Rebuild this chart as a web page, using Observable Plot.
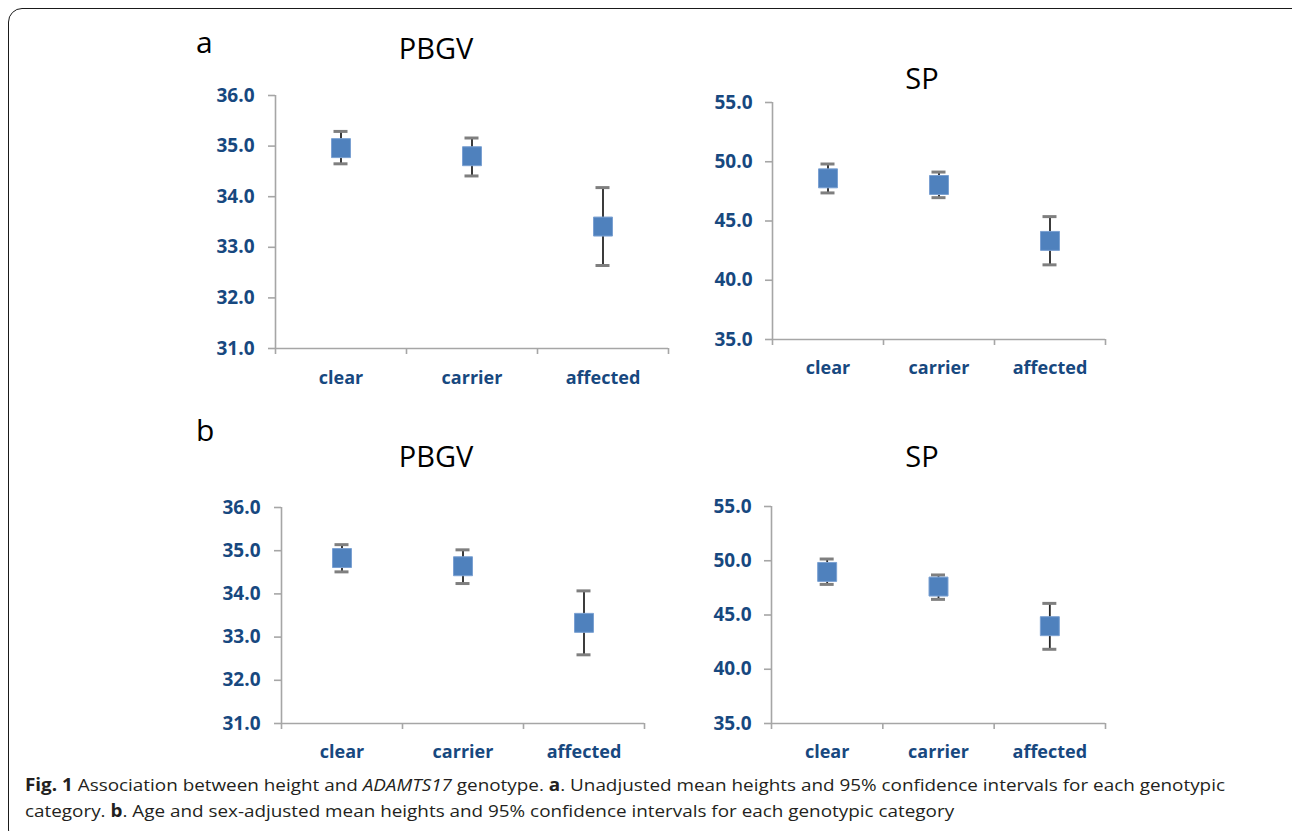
<!DOCTYPE html>
<html>
<head>
<meta charset="utf-8">
<script src="https://cdn.jsdelivr.net/npm/d3@7"></script>
<script src="https://cdn.jsdelivr.net/npm/@observablehq/plot@0.6"></script>
<style>
html,body{margin:0;padding:0;background:#fff;}
body{width:1292px;height:831px;position:relative;overflow:hidden;font-family:"Open Sans",sans-serif;}
.frame{position:absolute;left:8px;top:8px;width:1300px;height:836px;border:1.5px solid #1a1a1a;border-radius:14px;box-sizing:border-box;}
.t{position:absolute;white-space:nowrap;line-height:1;color:#000;font-family:"Open Sans",sans-serif;}
.c{transform:translateX(-50%);}
.panel{position:absolute;}
.caption{position:absolute;left:25px;top:772px;font-size:17px;line-height:26px;color:#231f20;white-space:nowrap;transform:scaleX(1.11);transform-origin:0 0;}
</style>
</head>
<body>
<div class="frame"></div>
<div class="t" style="left:196px;top:27px;font-size:30px;">a</div>
<div class="t c" style="left:436px;top:33px;font-size:29px;">PBGV</div>
<div class="t c" style="left:922px;top:63px;font-size:29px;">SP</div>
<div class="t" style="left:196px;top:415px;font-size:30px;">b</div>
<div class="t c" style="left:436px;top:441px;font-size:29px;">PBGV</div>
<div class="t c" style="left:922px;top:441px;font-size:29px;">SP</div>
<div id="p1" class="panel"></div>
<div id="p2" class="panel"></div>
<div id="p3" class="panel"></div>
<div id="p4" class="panel"></div>
<div class="caption"><b>Fig. 1</b> Association between height and <i>ADAMTS17</i> genotype. <b>a</b>. Unadjusted mean heights and 95% confidence intervals for each genotypic<br>category. <b>b</b>. Age and sex-adjusted mean heights and 95% confidence intervals for each genotypic category</div>
<script>
// ---- data ----
const categories = ["clear", "carrier", "affected"];

// a: unadjusted
const pbgvUnadjMean = [34.96, 34.80, 33.41];
const pbgvUnadjLow  = [34.65, 34.41, 32.64];
const pbgvUnadjHigh = [35.29, 35.16, 34.18];

const spUnadjMean = [48.60, 48.04, 43.32];
const spUnadjLow  = [47.37, 46.97, 41.30];
const spUnadjHigh = [49.81, 49.13, 45.37];

// b: age and sex-adjusted
const pbgvAdjMean = [34.83, 34.64, 33.33];
const pbgvAdjLow  = [34.51, 34.24, 32.59];
const pbgvAdjHigh = [35.14, 35.02, 34.07];

const spAdjMean = [48.97, 47.62, 43.97];
const spAdjLow  = [47.82, 46.44, 41.84];
const spAdjHigh = [50.16, 48.69, 46.07];

const pbgvTicks = [31, 32, 33, 34, 35, 36];
const spTicks = [35, 40, 45, 50, 55];

// ---- drawing ----
const BLUE_TEXT = "#17487f";
const AXIS_GRAY = "#a6a6a6";

function rowsOf(mean, low, high) {
  return categories.map((c, i) => ({cat: c, mean: mean[i], low: low[i], high: high[i]}));
}
const xPos = d => categories.indexOf(d.cat) + 0.5;
const boundaries = d3.range(categories.length + 1);
const centers = categories.map((c, i) => i + 0.5);

function panel(id, rows, ticks, box) {
  const [mt, mr, mb, ml] = box.margins;
  const el = document.getElementById(id);
  el.style.left = box.left + "px";
  el.style.top = box.top + "px";
  const chart = Plot.plot({
    width: box.width,
    height: box.height,
    marginTop: mt, marginRight: mr, marginBottom: mb, marginLeft: ml,
    style: {fontFamily: "Open Sans, sans-serif", background: "transparent", overflow: "visible"},
    x: {domain: [0, categories.length]},
    y: {domain: [d3.min(ticks), d3.max(ticks)]},
    marks: [
      Plot.axisY({ticks, tickSize: 7, tickPadding: box.yPad, tickFormat: d3.format(".1f"),
        stroke: AXIS_GRAY, strokeWidth: 1.6, fill: BLUE_TEXT, fontSize: 19, fontWeight: "bold"}),
      Plot.axisX({ticks: boundaries, tickSize: 6, fill: "none", stroke: AXIS_GRAY, strokeWidth: 1.6}),
      Plot.axisX({ticks: centers, tickSize: 0, tickPadding: box.xPad,
        tickFormat: v => categories[Math.round(v - 0.5)],
        fill: BLUE_TEXT, fontSize: 18, fontWeight: "bold"}),
      Plot.ruleX([0], {stroke: AXIS_GRAY, strokeWidth: 1.6}),
      Plot.ruleY([d3.min(ticks)], {stroke: AXIS_GRAY, strokeWidth: 1.6}),
      Plot.ruleX(rows, {x: xPos, y1: "low", y2: "high", stroke: "#262626", strokeWidth: 1.8}),
      Plot.ruleY(rows, {y: "low", x1: xPos, x2: xPos, insetLeft: -7, insetRight: -7, stroke: "#7f7f7f", strokeWidth: 3}),
      Plot.ruleY(rows, {y: "high", x1: xPos, x2: xPos, insetLeft: -7, insetRight: -7, stroke: "#7f7f7f", strokeWidth: 3}),
      Plot.dot(rows, {x: xPos, y: "mean", symbol: "square", r: 10.7, fill: "#4f81bd", stroke: "#7aa0d2", strokeWidth: 1, fillOpacity: 1})
    ]
  });
  el.appendChild(chart);
}

panel("p1", rowsOf(pbgvUnadjMean, pbgvUnadjLow, pbgvUnadjHigh), pbgvTicks,
  {left: 190, top: 70, width: 490, height: 330, margins: [25, 12, 52, 85], yPad: 14, xPad: 23});
panel("p2", rowsOf(spUnadjMean, spUnadjLow, spUnadjHigh), spTicks,
  {left: 690, top: 70, width: 427, height: 330, margins: [32, 12, 61, 82], yPad: 13, xPad: 22});
panel("p3", rowsOf(pbgvAdjMean, pbgvAdjLow, pbgvAdjHigh), pbgvTicks,
  {left: 190, top: 480, width: 466, height: 290, margins: [27, 12, 47, 91], yPad: 14, xPad: 22});
panel("p4", rowsOf(spAdjMean, spAdjLow, spAdjHigh), spTicks,
  {left: 690, top: 480, width: 427, height: 290, margins: [26, 12, 47, 81], yPad: 13, xPad: 22});
</script>
</body>
</html>
